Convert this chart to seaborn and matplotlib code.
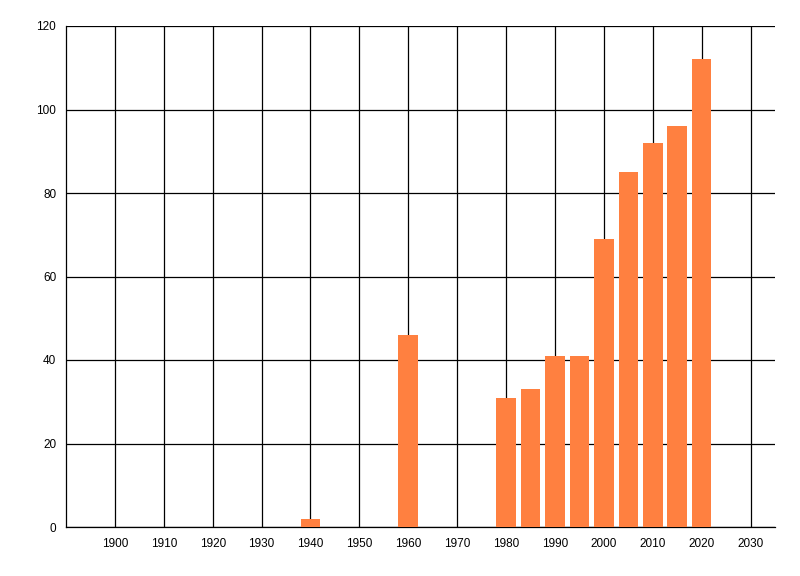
import matplotlib
matplotlib.use("Agg")
import matplotlib.pyplot as plt
import seaborn as sns
import pandas as pd

years = [1940, 1960, 1980, 1985, 1990, 1995, 2000, 2005, 2010, 2015, 2020]
values = [2, 46, 31, 33, 41, 41, 69, 85, 92, 96, 112]
x_ticks = list(range(1900, 2031, 10))
y_ticks = list(range(0, 121, 20))

sns.set_style("white")
plt.rcParams['font.family'] = ['Liberation Sans', 'DejaVu Sans']

df = pd.DataFrame({"year": years, "value": values})

fig = plt.figure(figsize=(8, 5.76), dpi=100)
ax = fig.add_axes([66/800, 1-527/576, (775-66)/800, (527-26)/576])

sns.barplot(data=df, x="year", y="value", native_scale=True, width=0.8,
            color="#FF8040", saturation=1, linewidth=0, edgecolor="none",
            ax=ax, zorder=3)

ax.set_xlim(1890, 2035)
ax.set_ylim(0, 120)
ax.set_xticks(x_ticks)
ax.set_yticks(y_ticks)
ax.set_xticklabels([str(t) for t in x_ticks])
ax.set_yticklabels([str(t) for t in y_ticks])
ax.grid(True, color="black", linewidth=0.9, zorder=0)
ax.set_axisbelow(True)
ax.set_xlabel("")
ax.set_ylabel("")
for s in ["top", "right"]:
    ax.spines[s].set_visible(False)
for s in ["left", "bottom"]:
    ax.spines[s].set_color("black")
    ax.spines[s].set_linewidth(0.9)
ax.tick_params(axis="y", length=5, width=0.9, color="black", labelsize=8.5, pad=2)
ax.tick_params(axis="x", length=0, labelsize=8.5, pad=8)
ax.tick_params(colors="black")

fig.savefig("out.png", dpi=100)
